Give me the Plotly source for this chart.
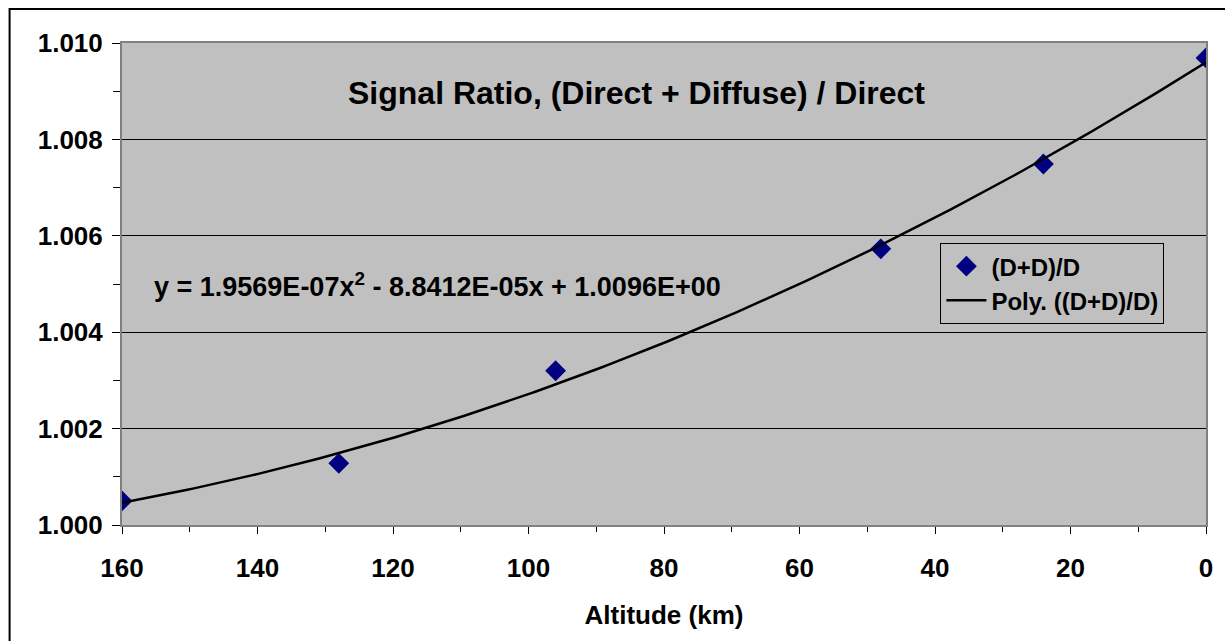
import numpy as np
import plotly.graph_objects as go

altitude = [160, 128, 96, 48, 24, 0]
ratio = [1.00050, 1.00128, 1.00320, 1.00573, 1.00749, 1.00969]
coeffs = [1.9569e-07, -8.8412e-05, 1.0096]  # trendline equation shown on chart
y_ticks = [1.000, 1.002, 1.004, 1.006, 1.008, 1.010]
x_ticks = [160, 140, 120, 100, 80, 60, 40, 20, 0]

xf = np.linspace(160, 0, 200)
yf = np.polyval(coeffs, xf)

FONT = "Liberation Sans, Arial, sans-serif"

fig = go.Figure()
fig.add_trace(go.Scatter(
    x=altitude, y=ratio, mode="markers", name="(D+D)/D",
    marker=dict(symbol="diamond", size=16, color="#000080"),
))
fig.add_trace(go.Scatter(
    x=xf, y=yf, mode="lines", name="Poly. ((D+D)/D)",
    line=dict(color="black", width=2.5),
))

fig.update_layout(
    width=1225, height=641,
    margin=dict(l=122, r=13, t=43, b=116),
    paper_bgcolor="white", plot_bgcolor="#C0C0C0",
    font=dict(family=FONT, size=24, color="black"),
    showlegend=True,
    legend=dict(
        x=0.755, y=0.585, xanchor="left", yanchor="top",
        bgcolor="#C0C0C0", bordercolor="black", borderwidth=1,
        font=dict(family=FONT, size=24, color="black", weight="bold"),
        itemwidth=40, tracegroupgap=2,
    ),
    xaxis=dict(
        range=[160, 0], tickvals=x_ticks, ticktext=[str(v) for v in x_ticks],
        showgrid=False, zeroline=False,
        ticks="outside", ticklen=7, tickcolor="black", tickwidth=1,
        minor=dict(dtick=10, ticks="outside", ticklen=5, tickcolor="black", showgrid=False),
        showline=True, linecolor="#808080", linewidth=2, mirror=True,
        tickfont=dict(family=FONT, size=26, weight="bold"),
        ticklabelstandoff=12,
        title=dict(text="Altitude (km)", font=dict(family=FONT, size=26, weight="bold"), standoff=24),
    ),
    yaxis=dict(
        range=[1.000, 1.010], tickvals=y_ticks, ticktext=[f"{v:.3f}" for v in y_ticks],
        showgrid=True, gridcolor="black", gridwidth=1, zeroline=False,
        ticks="outside", ticklen=8, tickcolor="black", tickwidth=1,
        minor=dict(dtick=0.001, ticks="outside", ticklen=7, tickcolor="black", showgrid=False),
        showline=True, linecolor="#808080", linewidth=2, mirror=True,
        tickfont=dict(family=FONT, size=26, weight="bold"),
        ticklabelstandoff=4,
    ),
    annotations=[
        dict(text="<b>Signal Ratio, (Direct + Diffuse) / Direct</b>",
             xref="paper", yref="paper", x=0.475, y=0.896, showarrow=False,
             xanchor="center", yanchor="middle",
             font=dict(family=FONT, size=32, color="black")),
        dict(text="<b>y = 1.9569E-07x<sup>2</sup> - 8.8412E-05x + 1.0096E+00</b>",
             xref="paper", yref="paper", x=0.028, y=0.498, showarrow=False,
             xanchor="left", yanchor="middle",
             font=dict(family=FONT, size=27, color="black")),
    ],
    shapes=[
        dict(type="rect", xref="paper", yref="paper",
             x0=-0.1037, y0=-0.3, x1=1.03, y1=1.0705,
             line=dict(color="black", width=2), layer="below"),
    ],
)

fig.write_html("out.html", config={"displayModeBar": False},
               post_script="document.body.style.margin='0';")
